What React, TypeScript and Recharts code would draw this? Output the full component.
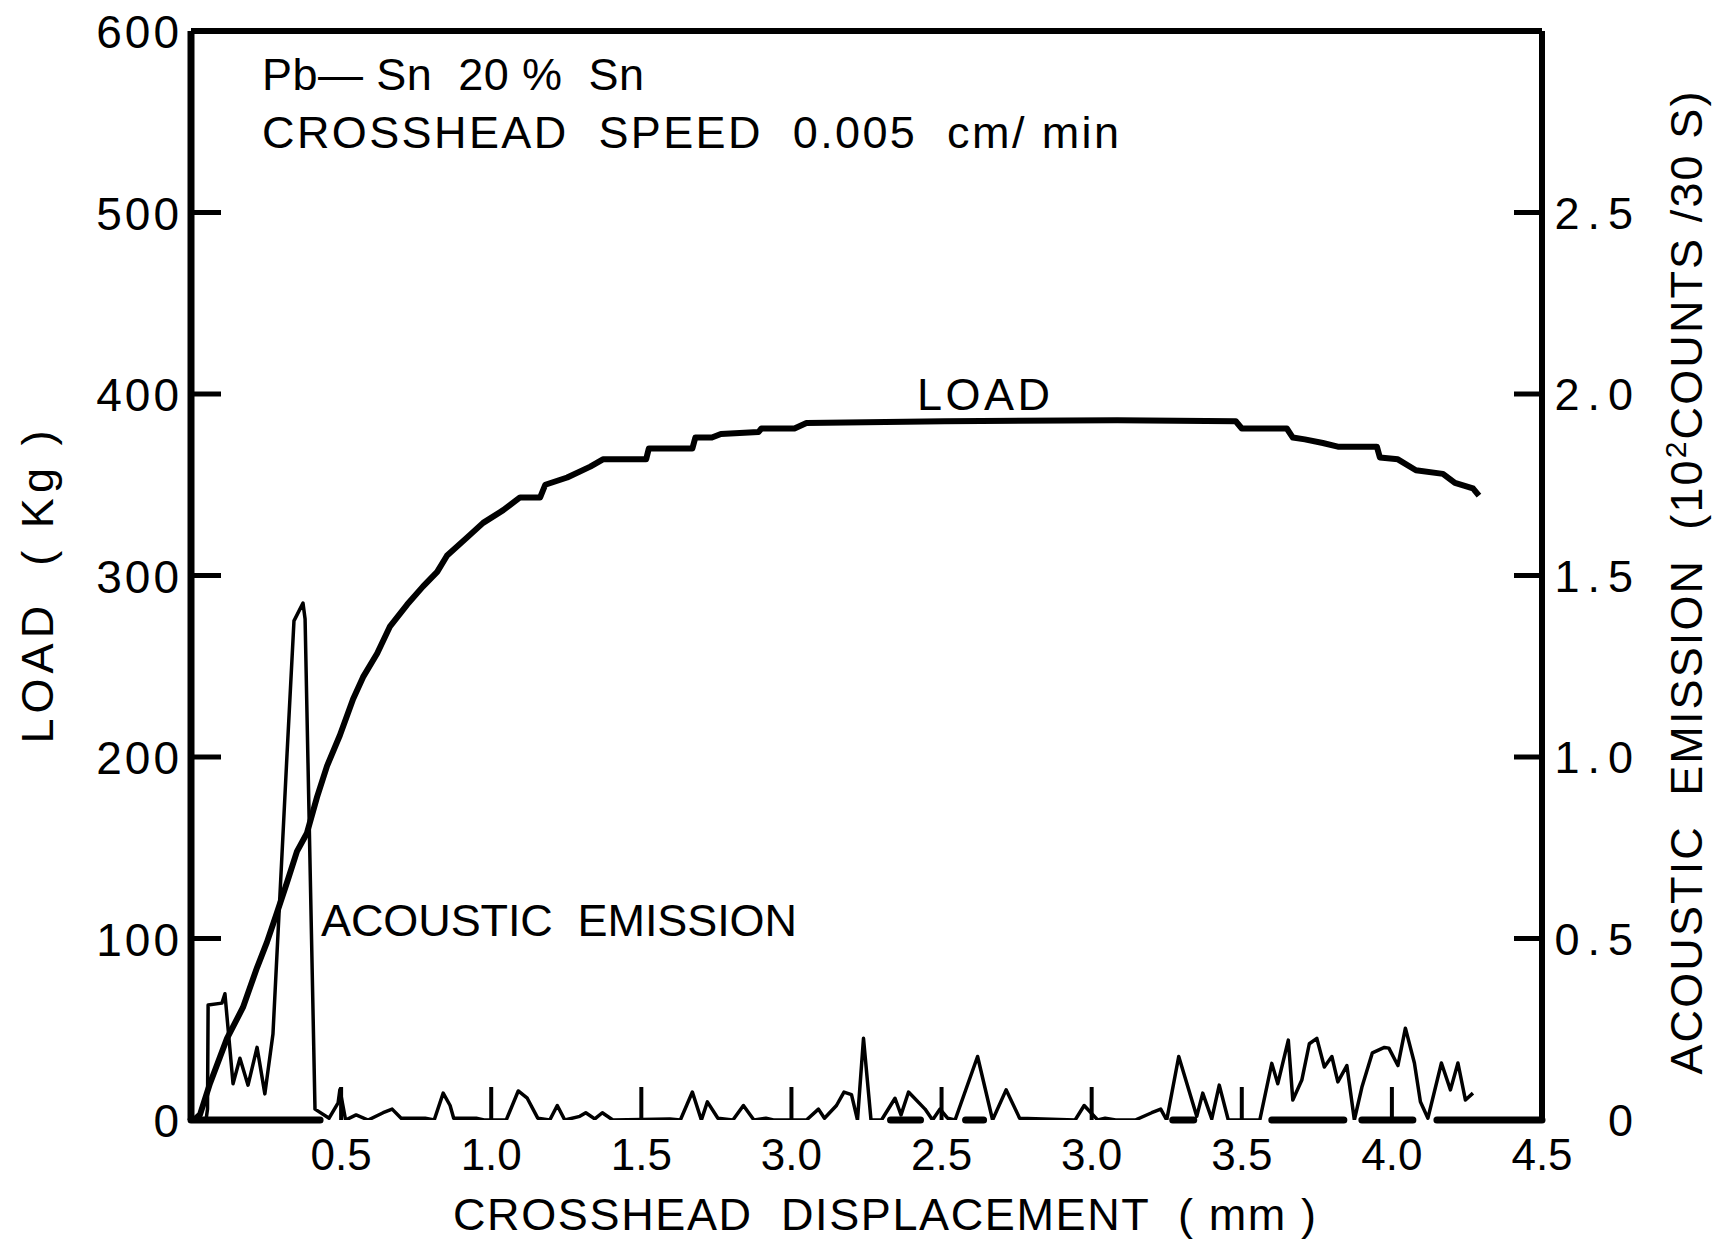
import React from 'react';
import { LineChart, Line, XAxis, YAxis, ReferenceLine, Customized } from 'recharts';

const FONT = '"Liberation Sans", Arial, Helvetica, sans-serif';

// LOAD curve (kg) vs crosshead displacement (mm)
const loadX = [0.01, 0.03, 0.063, 0.12, 0.173, 0.22, 0.253, 0.286, 0.32, 0.353, 0.386, 0.42, 0.453, 0.496, 0.54, 0.573, 0.62, 0.663, 0.72, 0.773, 0.82, 0.853, 0.92, 0.973, 1.04, 1.096, 1.163, 1.18, 1.253, 1.33, 1.372, 1.516, 1.525, 1.67, 1.68, 1.735, 1.765, 1.89, 1.9, 2.01, 2.05, 2.51, 3.085, 3.48, 3.5, 3.65, 3.67, 3.71, 3.77, 3.82, 3.95, 3.96, 4.02, 4.08, 4.17, 4.21, 4.27, 4.29];
const loadKg = [0, 3, 20, 45, 62, 84, 98, 114, 131, 148, 158, 178, 195, 212, 232, 244, 257, 272, 284, 294, 302, 311, 321, 329, 336, 343, 343, 350, 354, 360, 364, 364, 370, 370, 376, 376, 378, 379, 381, 381, 384, 385, 385.5, 385, 381, 381, 376, 375, 373, 371, 371, 365, 364, 358, 356, 351, 348, 344];

// ACOUSTIC EMISSION (10^2 counts / 30 s) vs crosshead displacement (mm)
const aeX = [0, 0.05, 0.055, 0.057, 0.103, 0.113, 0.14, 0.163, 0.19, 0.22, 0.246, 0.273, 0.32, 0.343, 0.373, 0.38, 0.413, 0.46, 0.49, 0.496, 0.515, 0.55, 0.59, 0.64, 0.67, 0.7, 0.78, 0.81, 0.84, 0.863, 0.875, 0.95, 0.976, 1.05, 1.09, 1.12, 1.155, 1.195, 1.22, 1.245, 1.295, 1.315, 1.345, 1.37, 1.405, 1.595, 1.63, 1.67, 1.7, 1.72, 1.755, 1.805, 1.84, 1.875, 1.915, 1.94, 2.05, 2.09, 2.11, 2.15, 2.175, 2.2, 2.22, 2.24, 2.265, 2.3, 2.33, 2.345, 2.365, 2.39, 2.445, 2.47, 2.495, 2.52, 2.545, 2.62, 2.67, 2.715, 2.76, 2.945, 2.975, 3.02, 3.045, 3.08, 3.145, 3.2, 3.23, 3.25, 3.29, 3.35, 3.37, 3.4, 3.425, 3.455, 3.56, 3.6, 3.62, 3.655, 3.67, 3.7, 3.725, 3.75, 3.775, 3.8, 3.82, 3.85, 3.875, 3.9, 3.935, 3.975, 3.99, 4.02, 4.045, 4.075, 4.095, 4.12, 4.165, 4.195, 4.22, 4.245, 4.27];
const aeCounts = [0, 0, 0.03, 0.317, 0.322, 0.348, 0.1, 0.17, 0.096, 0.2, 0.072, 0.237, 1.01, 1.375, 1.424, 1.38, 0.03, 0.005, 0.047, 0.084, 0, 0.014, 0, 0.02, 0.03, 0.005, 0.005, 0, 0.074, 0.04, 0.005, 0.005, 0, 0, 0.08, 0.06, 0.005, 0, 0.04, 0, 0.01, 0.02, 0.003, 0.02, 0, 0.003, 0, 0.077, 0, 0.05, 0.005, 0, 0.04, 0, 0.005, 0, 0, 0.03, 0.005, 0.04, 0.077, 0.07, 0, 0.225, 0, 0, 0.04, 0.06, 0.014, 0.077, 0.03, 0, 0.03, 0.005, 0, 0.175, 0, 0.083, 0.005, 0, 0.04, 0, 0.005, 0, 0, 0.02, 0.03, 0, 0.175, 0.01, 0.074, 0.003, 0.096, 0, 0, 0.156, 0.1, 0.22, 0.055, 0.11, 0.21, 0.225, 0.146, 0.175, 0.105, 0.15, 0, 0.09, 0.185, 0.2, 0.198, 0.15, 0.253, 0.157, 0.05, 0.005, 0.157, 0.083, 0.157, 0.055, 0.074];

// axes
const xTicks = [0, 0.5, 1, 1.5, 2, 2.5, 3, 3.5, 4, 4.5];
const xTickLabels = ['', '0.5', '1.0', '1.5', '3.0', '2.5', '3.0', '3.5', '4.0', '4.5'];
const loadTicks = [0, 100, 200, 300, 400, 500, 600];
const loadTickLabels = ['0', '100', '200', '300', '400', '500', '600'];
const aeTicks = [0, 0.5, 1, 1.5, 2, 2.5];
const aeTickLabels = ['0', '0.5', '1.0', '1.5', '2.0', '2.5'];

// pieces of the drawn baseline (mm)
const baseStart = [0, 2.33, 2.58, 3.27, 3.6, 3.9, 4.15];
const baseEnd = [0.43, 2.43, 2.64, 3.34, 3.84, 4.07, 4.5];

const loadData = loadX.map((x, i) => ({ x, load: loadKg[i] }));
const aeData = aeX.map((x, i) => ({ x, ae: aeCounts[i] }));

const XTick = (props: any) => {
  const { x, y, payload } = props;
  const i = xTicks.indexOf(payload.value);
  const inner = payload.value > 0 && payload.value < 4.5;
  return (
    <g>
      {inner && <line x1={x} x2={x} y1={y} y2={y - 33} stroke="#000" strokeWidth={4} />}
      <text x={x} y={y + 50} textAnchor="middle" fontSize={44} fontFamily={FONT} fill="#000">
        {xTickLabels[i]}
      </text>
    </g>
  );
};

const LoadTick = (props: any) => {
  const { x, y, payload } = props;
  const i = loadTicks.indexOf(payload.value);
  const inner = payload.value > 0 && payload.value < 600;
  return (
    <g>
      {inner && <line x1={x} x2={x + 30} y1={y} y2={y} stroke="#000" strokeWidth={5} />}
      <text x={x - 9} y={y + 17} textAnchor="end" fontSize={46} fontFamily={FONT} fill="#000" style={{ letterSpacing: 3 }}>
        {loadTickLabels[i]}
      </text>
    </g>
  );
};

const AeTick = (props: any) => {
  const { x, y, payload } = props;
  const i = aeTicks.indexOf(payload.value);
  const inner = payload.value > 0;
  return (
    <g>
      {inner && <line x1={x - 28} x2={x} y1={y} y2={y} stroke="#000" strokeWidth={5} />}
      <text x={x + 99} y={y + 16} textAnchor="end" fontSize={45} fontFamily={FONT} fill="#000" style={{ letterSpacing: 8 }}>
        {aeTickLabels[i]}
      </text>
    </g>
  );
};

const Annotations = () => (
  <g fontFamily={FONT} fill="#000" fontSize={45}>
    <text x={262} y={90} textLength={382} lengthAdjust="spacing" xmlSpace="preserve" style={{ whiteSpace: 'pre' }}>
      Pb— Sn  20 %  Sn
    </text>
    <text x={262} y={148} textLength={857} lengthAdjust="spacing" xmlSpace="preserve" style={{ whiteSpace: 'pre' }}>
      CROSSHEAD  SPEED  0.005  cm/ min
    </text>
    <text x={917} y={410} textLength={133} lengthAdjust="spacing">
      LOAD
    </text>
    <text x={321} y={936} textLength={476} lengthAdjust="spacing" xmlSpace="preserve" style={{ whiteSpace: 'pre' }}>
      ACOUSTIC  EMISSION
    </text>
    <text x={453} y={1230} textLength={863} lengthAdjust="spacing" xmlSpace="preserve" style={{ whiteSpace: 'pre' }}>
      CROSSHEAD  DISPLACEMENT  ( mm )
    </text>
    <text x={53} y={587} textAnchor="middle" transform="rotate(-90 53 587)" textLength={313} lengthAdjust="spacing" xmlSpace="preserve" style={{ whiteSpace: 'pre' }}>
      LOAD  ( Kg )
    </text>
    <text x={1702} y={583} textAnchor="middle" transform="rotate(-90 1702 583)" textLength={983} lengthAdjust="spacing" xmlSpace="preserve" style={{ whiteSpace: 'pre' }}>
      ACOUSTIC  EMISSION  (10<tspan dy={-16} fontSize={30}>2</tspan><tspan dy={16}>COUNTS /30 S)</tspan>
    </text>
  </g>
);

export default function App() {
  return (
    <div style={{ position: 'absolute', left: 0, top: 0, width: 1712, height: 1239, background: '#fff' }}>
      <LineChart width={1712} height={1239} margin={{ top: 31, right: 50, left: 91, bottom: 39 }}>
        <XAxis
          dataKey="x"
          type="number"
          domain={[0, 4.5]}
          ticks={xTicks}
          interval={0}
          height={80}
          tickSize={0}
          tickMargin={0}
          axisLine={false}
          tickLine={false}
          tick={XTick}
          allowDataOverflow
        />
        <YAxis
          yAxisId="load"
          orientation="left"
          type="number"
          domain={[0, 600]}
          ticks={loadTicks}
          interval={0}
          width={100}
          tickSize={0}
          tickMargin={0}
          axisLine={{ stroke: '#000', strokeWidth: 7 }}
          tickLine={false}
          tick={LoadTick}
          allowDataOverflow
        />
        <YAxis
          yAxisId="ae"
          orientation="right"
          type="number"
          domain={[0, 3]}
          ticks={aeTicks}
          interval={0}
          width={120}
          tickSize={0}
          tickMargin={0}
          axisLine={{ stroke: '#000', strokeWidth: 6 }}
          tickLine={false}
          tick={AeTick}
          allowDataOverflow
        />
        <ReferenceLine yAxisId="load" y={600} stroke="#000" strokeWidth={6} ifOverflow="visible" />
        {baseStart.map((s, i) => (
          <ReferenceLine
            key={'b' + i}
            yAxisId="load"
            segment={[{ x: s, y: 0 }, { x: baseEnd[i], y: 0 }]}
            stroke="#000"
            strokeWidth={7}
            strokeLinecap="round"
            ifOverflow="visible"
          />
        ))}
        <Line
          yAxisId="ae"
          data={aeData}
          dataKey="ae"
          type="linear"
          stroke="#000"
          strokeWidth={3.5}
          strokeLinejoin="round"
          dot={false}
          isAnimationActive={false}
        />
        <Line
          yAxisId="load"
          data={loadData}
          dataKey="load"
          type="linear"
          stroke="#000"
          strokeWidth={6}
          strokeLinejoin="round"
          dot={false}
          isAnimationActive={false}
        />
        <Customized component={Annotations} />
      </LineChart>
    </div>
  );
}
